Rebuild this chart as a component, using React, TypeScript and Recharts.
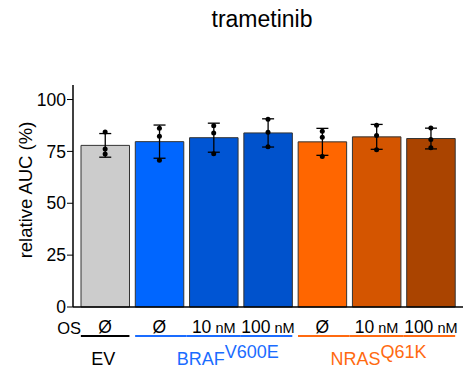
import React from 'react';
import { ComposedChart, Bar, Scatter, ErrorBar, XAxis, YAxis, Cell, Label } from 'recharts';

// trametinib: relative AUC per overexpression construct
const conditions = ['EV', 'BRAF-0', 'BRAF-10', 'BRAF-100', 'NRAS-0', 'NRAS-10', 'NRAS-100'];
const doseLabels = ['Ø', 'Ø', '10 nM', '100 nM', 'Ø', '10 nM', '100 nM'];
const groupOf = [0, 1, 1, 1, 2, 2, 2];
const meanAUC = [77.9, 79.7, 81.6, 83.9, 79.6, 82.0, 81.2];
const sdAUC = [5.7, 8.0, 7.0, 6.8, 6.5, 6.0, 5.0];
const rep1 = [84.4, 86.1, 87.3, 90.5, 84.7, 87.6, 86.3];
const rep2 = [76.2, 82.3, 83.9, 84.2, 81.8, 82.6, 80.7];
const rep3 = [73.8, 70.7, 73.9, 77.2, 72.5, 75.8, 76.7];
const barColors = ['#cccccc', '#0066ff', '#0055d4', '#0052cc', '#ff6600', '#d45500', '#aa4400'];

const groupNames = ['EV', 'BRAF', 'NRAS'];
const groupSup = ['', 'V600E', 'Q61K'];
const groupColors = ['#000000', '#1a6cff', '#ff6a10'];
const groupLabelAt = [0, 2, 5];
const groupLabelDx = [-2, 14, 2];
const yTicks = [0, 25, 50, 75, 100];

const data = conditions.map((c, i) => ({
  id: c,
  auc: meanAUC[i],
  err: sdAUC[i],
  r1: rep1[i],
  r2: rep2[i],
  r3: rep3[i],
}));

const FONT = 'Liberation Sans, Arial, sans-serif';
const HALF_BAR = 24.3;
const HALF_BAND = 27.15;

const AxisTick = (props: any) => {
  const { x, y, index } = props;
  const lbl = doseLabels[index];
  const g = groupOf[index];
  const first = index === 0 || groupOf[index - 1] !== g;
  const last = index === conditions.length - 1 || groupOf[index + 1] !== g;
  const x1 = x - (first ? HALF_BAR : HALF_BAND);
  const x2 = x + (last ? HALF_BAR : HALF_BAND);
  const [num, unit] = lbl.split(' ');
  const gi = groupLabelAt.indexOf(index);
  return (
    <g>
      <line x1={x1} x2={x2} y1={y + 29} y2={y + 29} stroke={groupColors[g]} strokeWidth={2} />
      <text x={x} y={y + 26} textAnchor="middle" fontFamily={FONT} fontSize={17.5} fill="#000">
        {num}
        {unit && <tspan fontSize={14.5}> {unit}</tspan>}
      </text>
      {index === 0 && (
        <text x={x - 36} y={y + 26.5} textAnchor="middle" fontFamily={FONT} fontSize={16.5} fill="#000">
          OS
        </text>
      )}
      {gi >= 0 && (
        <text
          x={x + groupLabelDx[gi]}
          y={y + 58}
          textAnchor="middle"
          fontFamily={FONT}
          fontSize={18}
          fill={groupColors[gi]}
        >
          {groupNames[gi]}
          {groupSup[gi] && <tspan dy={-7.5}>{groupSup[gi]}</tspan>}
        </text>
      )}
    </g>
  );
};

const Dot = (props: any) => <circle cx={props.cx} cy={props.cy} r={2.5} fill="#000" />;

export default function App() {
  return (
    <div style={{ position: 'relative', width: 475, height: 371, background: '#fff' }}>
      <style>{`body{margin:0}`}</style>
      <div
        style={{
          position: 'absolute',
          left: 112,
          top: 8,
          width: 300,
          textAlign: 'center',
          fontFamily: FONT,
          fontSize: 23,
          lineHeight: '22px',
          color: '#000',
        }}
      >
        trametinib
      </div>
      <ComposedChart
        width={475}
        height={371}
        data={data}
        margin={{ top: 85, right: 12, left: 13, bottom: 0 }}
      >
        <XAxis
          dataKey="id"
          type="category"
          height={64}
          padding={{ left: 5, right: 5 }}
          axisLine={{ stroke: '#000', strokeWidth: 1.5 }}
          tickLine={false}
          tickSize={0}
          tickMargin={0}
          interval={0}
          tick={<AxisTick />}
        />
        <YAxis
          type="number"
          domain={[0, 107]}
          ticks={yTicks}
          width={60}
          axisLine={{ stroke: '#000', strokeWidth: 1.5 }}
          tickLine={{ stroke: '#000', strokeWidth: 1 }}
          tickSize={6}
          tickMargin={1}
          tick={{ fill: '#000', fontSize: 17.5, fontFamily: FONT }}
        >
          <Label
            content={() => (
              <text
                transform="translate(25,190) rotate(-90)"
                textAnchor="middle"
                dominantBaseline="central"
                fontFamily={FONT}
                fontSize={18.5}
                fill="#000"
              >
                relative AUC (%)
              </text>
            )}
          />
        </YAxis>
        <Bar dataKey="auc" barSize={48.5} stroke="#333" strokeWidth={1} isAnimationActive={false}>
          {data.map((d, i) => (
            <Cell key={d.id} fill={barColors[i]} />
          ))}
          <ErrorBar dataKey="err" width={6} stroke="#000" strokeWidth={1.3} direction="y" />
        </Bar>
        <Scatter dataKey="r1" shape={<Dot />} isAnimationActive={false} />
        <Scatter dataKey="r2" shape={<Dot />} isAnimationActive={false} />
        <Scatter dataKey="r3" shape={<Dot />} isAnimationActive={false} />
      </ComposedChart>
    </div>
  );
}
